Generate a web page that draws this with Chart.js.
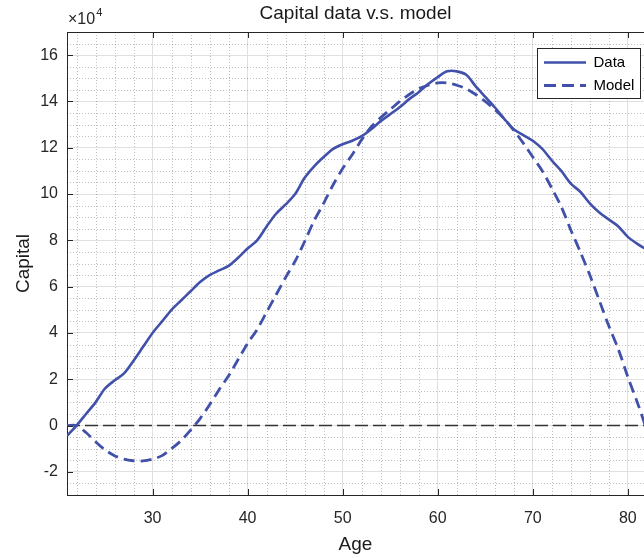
<!DOCTYPE html>
<html>
<head>
<meta charset="utf-8">
<script src="https://cdn.jsdelivr.net/npm/chart.js@4.4.1/dist/chart.umd.min.js"></script>
<style>
html,body{margin:0;padding:0;background:#fff;overflow:hidden}
canvas{display:block}
</style>
</head>
<body>
<canvas id="c" width="644" height="558"></canvas>
<script>
// ---- data (Capital in currency units; axis shows x10^4) ----
const ages = [21,22,23,24,25,26,27,28,29,30,31,32,33,34,35,36,37,38,39,40,41,42,43,44,45,46,47,48,49,50,51,52,53,54,55,56,57,58,59,60,61,62,63,64,65,66,67,68,69,70,71,72,73,74,75,76,77,78,79,80,81,82];
const capitalData = [-4500,0,5000,10000,16000,19500,22500,28000,34000,40000,45000,50000,54000,58000,62000,65000,67000,69000,72500,76500,80000,86000,91500,95500,100000,107000,112000,116000,119500,121500,123000,125000,128000,131500,134500,137500,141000,144000,147500,150500,153000,153000,151500,146500,142000,137500,132500,128000,125500,123000,119500,114500,110000,104500,101000,96000,92000,89000,86000,81500,78500,76000];
const capitalModel = [0,0,-3000,-7000,-10500,-13000,-14500,-15200,-15300,-14500,-13000,-10000,-6500,-2000,3000,9000,15500,21500,28500,35500,41500,49000,56500,64000,71000,79500,88500,96000,104000,111000,117000,123500,129000,133000,136500,140000,143000,145500,147000,148000,148000,147000,145500,143000,140000,136500,132500,127500,122000,116000,110000,102500,94500,84500,75000,65000,54000,43000,33000,21000,10000,-2000];
const zeroLine = [0, 0];
const zeroAges = [21, 82];
const xTickValues = [30,40,50,60,70,80];
const yTickLabels = [-2,0,2,4,6,8,10,12,14,16];
const yExponent = 4;

const yFactor = Math.pow(10, yExponent);
const FONT = "'Liberation Sans', Arial, Helvetica, sans-serif";
const AXIS = '#262626';

const frame = {
  id: 'frame',
  afterLayout(chart) {
    const lg = chart.legend; if (!lg) return;
    const ca = chart.chartArea;
    lg.left = ca.right - 108; lg.top = ca.top + 15;
    lg.width = 108; lg.height = 62;
    lg.right = lg.left + lg.width; lg.bottom = lg.top + lg.height;
  },
  beforeDatasetsDraw(chart) {
    const {ctx, chartArea: ca, scales: {x, y}} = chart;
    ctx.save();
    ctx.beginPath(); ctx.rect(ca.left, ca.top, ca.right - ca.left, ca.bottom - ca.top); ctx.clip();
    ctx.strokeStyle = 'rgba(0,0,0,0.25)'; ctx.lineWidth = 1; ctx.setLineDash([1, 2]);
    for (let v = 22; v <= x.max; v += 2) {
      if (v % 10 === 0) continue;
      const px = Math.round(x.getPixelForValue(v)) + 0.5;
      ctx.beginPath(); ctx.moveTo(px, ca.top); ctx.lineTo(px, ca.bottom); ctx.stroke();
    }
    for (let v = -2.5; v <= 17; v += 0.5) {
      if (Math.abs(v % 2) < 1e-9) continue;
      const py = Math.round(y.getPixelForValue(v * yFactor)) + 0.5;
      ctx.beginPath(); ctx.moveTo(ca.left, py); ctx.lineTo(ca.right, py); ctx.stroke();
    }
    ctx.restore();
  },
  afterDraw(chart) {
    const {ctx, chartArea: ca, scales: {x, y}} = chart;
    ctx.save();
    ctx.strokeStyle = AXIS; ctx.lineWidth = 1; ctx.setLineDash([]);
    ctx.beginPath(); ctx.moveTo(ca.left, ca.top + 0.5); ctx.lineTo(ca.right, ca.top + 0.5); ctx.stroke();
    xTickValues.forEach(v => {
      const px = Math.round(x.getPixelForValue(v)) + 0.5;
      ctx.beginPath(); ctx.moveTo(px, ca.bottom); ctx.lineTo(px, ca.bottom - 6);
      ctx.moveTo(px, ca.top); ctx.lineTo(px, ca.top + 6); ctx.stroke();
    });
    yTickLabels.forEach(v => {
      const py = Math.round(y.getPixelForValue(v * yFactor)) + 0.5;
      ctx.beginPath(); ctx.moveTo(ca.left, py); ctx.lineTo(ca.left + 6, py); ctx.stroke();
    });
    const lg = chart.legend;
    if (lg) {
      const bx = lg.left + 1.5, by = lg.top + 1.5, bw = 103, bh = 50;
      ctx.fillStyle = '#fff'; ctx.fillRect(bx, by, bw, bh);
      ctx.strokeStyle = '#262626'; ctx.lineWidth = 1; ctx.strokeRect(bx, by, bw, bh);
      ctx.restore(); ctx.save();
      lg.draw();
    }
    ctx.fillStyle = AXIS; ctx.textBaseline = 'alphabetic'; ctx.textAlign = 'left';
    ctx.font = '16px ' + FONT;
    ctx.fillText('\u00d710', ca.left + 1, ca.top - 8);
    const w = ctx.measureText('\u00d710').width;
    ctx.font = '11px ' + FONT;
    ctx.fillText(String(yExponent), ca.left + 1 + w + 1, ca.top - 16);
    ctx.restore();
  }
};

const toXY = (xs, ys) => xs.map((a, i) => ({x: a, y: ys[i]}));
const LINE = '#4151aa';

new Chart(document.getElementById('c'), {
  type: 'line',
  data: {
    datasets: [
      { label: 'Data', data: toXY(ages, capitalData), borderColor: LINE, borderWidth: 2.6, pointRadius: 0, tension: 0.3, fill: false },
      { label: 'Model', data: toXY(ages, capitalModel), borderColor: LINE, borderWidth: 2.8, borderDash: [11, 6], pointRadius: 0, tension: 0.3, fill: false },
      { label: 'zero', data: toXY(zeroAges, zeroLine), borderColor: '#333333', borderWidth: 1.5, borderDash: [13, 5], pointRadius: 0, fill: false }
    ]
  },
  options: {
    responsive: false,
    animation: false,
    events: [],
    layout: { padding: { left: 0, right: 0, top: 0, bottom: 0 } },
    font: { family: FONT },
    color: AXIS,
    scales: {
      x: {
        type: 'linear', min: 21, max: 81.7,
        afterBuildTicks: s => { s.ticks = xTickValues.map(v => ({value: v})); },
        afterFit: s => { s.height = 63; s.paddingLeft = 0; s.paddingRight = 0; },
        grid: { color: '#e0e0e0', lineWidth: 1, drawTicks: false },
        border: { display: true, color: AXIS, width: 1 },
        ticks: { color: AXIS, padding: 14, maxRotation: 0, font: { size: 16, family: FONT } },
        title: { display: true, text: 'Age', color: '#1a1a1a', font: { size: 19, family: FONT }, padding: { top: 0, bottom: 2 } }
      },
      y: {
        type: 'linear', min: -3 * yFactor, max: 17 * yFactor,
        afterBuildTicks: s => { s.ticks = yTickLabels.map(v => ({value: v * yFactor})); },
        afterFit: s => { s.width = 67; },
        grid: { color: '#e0e0e0', lineWidth: 1, drawTicks: false },
        border: { display: true, color: AXIS, width: 1 },
        ticks: { color: AXIS, padding: 9, callback: v => String(Math.round(v / yFactor)), font: { size: 16, family: FONT } },
        title: { display: true, text: 'Capital', color: '#1a1a1a', font: { size: 19, family: FONT }, padding: { top: 12, bottom: 0 } }
      }
    },
    plugins: {
      title: { display: true, fullSize: false, text: 'Capital data v.s. model', color: '#1a1a1a', font: { size: 19, weight: 'normal', family: FONT }, padding: { top: 2, bottom: 7.2 } },
      legend: {
        display: true, position: 'chartArea', align: 'start',
        labels: {
          usePointStyle: true, pointStyle: 'line', pointStyleWidth: 42, padding: 8, color: '#000',
          font: { size: 15, family: FONT },
          filter: it => it.datasetIndex < 2,
          generateLabels: chart => Chart.defaults.plugins.legend.labels.generateLabels(chart).map(it => {
            const ds = chart.data.datasets[it.datasetIndex];
            return Object.assign(it, { lineDash: ds.borderDash ? [12, 6] : [], lineWidth: ds.borderWidth, strokeStyle: ds.borderColor, fillStyle: ds.borderColor, pointStyle: 'line' });
          })
        }
      },
      tooltip: { enabled: false }
    }
  },
  plugins: [frame]
});
</script>
</body>
</html>
